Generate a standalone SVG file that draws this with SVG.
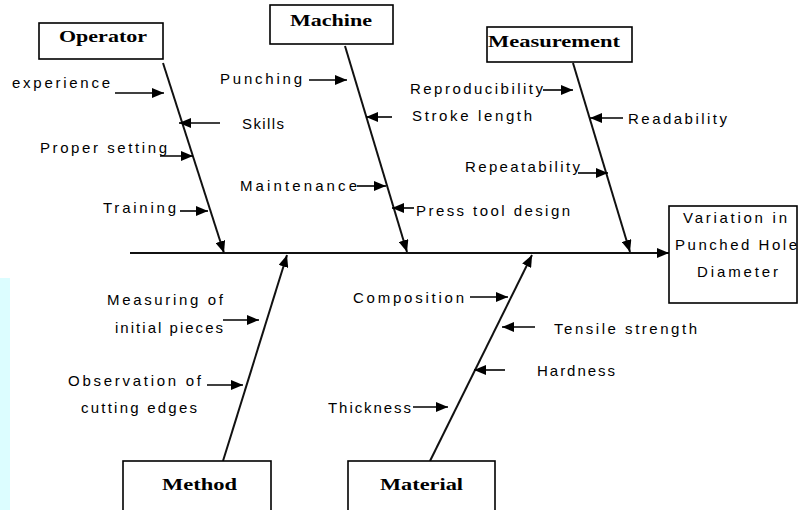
<svg xmlns="http://www.w3.org/2000/svg" width="800" height="510" viewBox="0 0 800 510">
<defs>
<marker id="ah" markerUnits="userSpaceOnUse" markerWidth="12" markerHeight="10" refX="12" refY="5" orient="auto">
<path d="M0,0 L12,5 L0,10 z" fill="#000"/>
</marker>
<style>
.box{fill:#fff;stroke:#000;stroke-width:1.6}
.bone{stroke:#111;stroke-width:2;fill:none;marker-end:url(#ah)}
.sub{stroke:#000;stroke-width:1.6;fill:none;marker-end:url(#ah)}
.lbl{font-family:"Liberation Sans",Arial,sans-serif;font-size:15px;fill:#000}
.ttl{font-family:"Liberation Serif","Times New Roman",serif;font-size:17px;font-weight:bold;fill:#000}
</style>
</defs>
<rect width="800" height="510" fill="#fff"/>
<rect x="0" y="278" width="10" height="234" fill="#dcfdff"/>

<g id="connectors">
<line class="bone" x1="130" y1="253" x2="669" y2="253"/>
<line class="bone" x1="163" y1="63" x2="224" y2="253"/>
<line class="bone" x1="345" y1="46" x2="407" y2="252"/>
<line class="bone" x1="573" y1="63" x2="630" y2="252"/>
<line class="bone" x1="223" y1="461" x2="287" y2="255"/>
<line class="bone" x1="430" y1="461" x2="532" y2="255"/>

<line class="sub" x1="115" y1="93" x2="164" y2="93"/>
<line class="sub" x1="220" y1="123" x2="179" y2="123"/>
<line class="sub" x1="160" y1="156" x2="193" y2="156"/>
<line class="sub" x1="180" y1="211" x2="208" y2="211"/>

<line class="sub" x1="309" y1="80" x2="347" y2="80"/>
<line class="sub" x1="392" y1="117" x2="366" y2="117"/>
<line class="sub" x1="357" y1="186" x2="386" y2="186"/>
<line class="sub" x1="414" y1="208" x2="392" y2="208"/>

<line class="sub" x1="543" y1="90" x2="573" y2="90"/>
<line class="sub" x1="623" y1="118" x2="590" y2="118"/>
<line class="sub" x1="578" y1="173" x2="608" y2="173"/>

<line class="sub" x1="223" y1="320" x2="259" y2="320"/>
<line class="sub" x1="207" y1="385" x2="243" y2="385"/>

<line class="sub" x1="470" y1="297" x2="508" y2="297"/>
<line class="sub" x1="535" y1="327" x2="502" y2="327"/>
<line class="sub" x1="505" y1="370" x2="474" y2="370"/>
<line class="sub" x1="413" y1="407" x2="448" y2="407"/>
</g>

<g id="operator">
<rect class="box" x="39" y="23" width="124" height="36"/>
<text class="ttl" x="59" y="42" textLength="88" lengthAdjust="spacingAndGlyphs">Operator</text>
</g>
<g id="machine">
<rect class="box" x="270" y="5" width="123" height="39"/>
<text class="ttl" x="290" y="26" textLength="82" lengthAdjust="spacingAndGlyphs">Machine</text>
</g>
<g id="measurement">
<rect class="box" x="487" y="27" width="145" height="35"/>
<text class="ttl" x="488" y="47" textLength="132" lengthAdjust="spacingAndGlyphs">Measurement</text>
</g>
<g id="method">
<rect class="box" x="123" y="461" width="148" height="55"/>
<text class="ttl" x="162" y="490" textLength="75" lengthAdjust="spacingAndGlyphs">Method</text>
</g>
<g id="material">
<rect class="box" x="348" y="461" width="147" height="55"/>
<text class="ttl" x="380" y="490" textLength="83" lengthAdjust="spacingAndGlyphs">Material</text>
</g>
<g id="effect">
<rect class="box" x="669" y="206" width="128" height="97"/>
<text class="lbl" x="683" y="223" textLength="104" lengthAdjust="spacing">Variation in</text>
<text class="lbl" x="675" y="250" textLength="122" lengthAdjust="spacing">Punched Hole</text>
<text class="lbl" x="697" y="277" textLength="81" lengthAdjust="spacing">Diameter</text>
</g>

<g id="labels">
<text class="lbl" x="12" y="88" textLength="98" lengthAdjust="spacing">experience</text>
<text class="lbl" x="242" y="129" textLength="42" lengthAdjust="spacing">Skills</text>
<text class="lbl" x="40" y="153" textLength="127" lengthAdjust="spacing">Proper setting</text>
<text class="lbl" x="103" y="213" textLength="73" lengthAdjust="spacing">Training</text>

<text class="lbl" x="220" y="84" textLength="82" lengthAdjust="spacing">Punching</text>
<text class="lbl" x="412" y="121" textLength="120" lengthAdjust="spacing">Stroke length</text>
<text class="lbl" x="240" y="191" textLength="117" lengthAdjust="spacing">Maintenance</text>
<text class="lbl" x="416" y="216" textLength="154" lengthAdjust="spacing">Press tool design</text>

<text class="lbl" x="410" y="94" textLength="133" lengthAdjust="spacing">Reproducibility</text>
<text class="lbl" x="628" y="124" textLength="99" lengthAdjust="spacing">Readability</text>
<text class="lbl" x="465" y="172" textLength="115" lengthAdjust="spacing">Repeatability</text>

<text class="lbl" x="107" y="305" textLength="116" lengthAdjust="spacing">Measuring of</text>
<text class="lbl" x="115" y="333" textLength="108" lengthAdjust="spacing">initial pieces</text>
<text class="lbl" x="68" y="386" textLength="133" lengthAdjust="spacing">Observation of</text>
<text class="lbl" x="81" y="413" textLength="116" lengthAdjust="spacing">cutting edges</text>

<text class="lbl" x="353" y="303" textLength="111" lengthAdjust="spacing">Composition</text>
<text class="lbl" x="554" y="334" textLength="143" lengthAdjust="spacing">Tensile strength</text>
<text class="lbl" x="537" y="376" textLength="78" lengthAdjust="spacing">Hardness</text>
<text class="lbl" x="328" y="413" textLength="83" lengthAdjust="spacing">Thickness</text>
</g>
</svg>
